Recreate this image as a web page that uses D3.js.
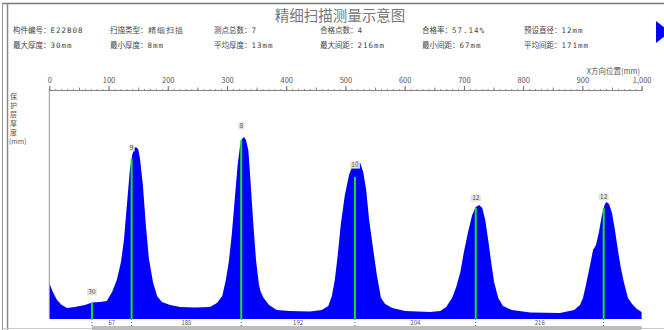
<!DOCTYPE html>
<html>
<head>
<meta charset="utf-8">
<script src="https://cdn.jsdelivr.net/npm/d3@7"></script>
<style>
  body { margin: 0; background: #fff; }
  svg { display: block; }
  text { font-family: "Noto Sans CJK SC", "DejaVu Sans", sans-serif; }
</style>
</head>
<body>
<div id="chart"></div>
<script>
// scan curve: position along X (mm) and signal amplitude (0-100)
var scanPos = [0, 6, 13, 21, 30, 43, 60, 72, 86, 97, 106, 114, 121, 126, 131, 136, 140, 143, 146, 150,
  153, 158, 163, 168, 175, 182, 190, 204, 221, 246, 271, 283, 292, 298, 303, 308, 313, 318, 322, 325,
  329, 332, 336, 339, 344, 349, 354, 357, 362, 371, 384, 406, 440, 460, 471, 477, 482, 487, 492, 499,
  506, 513, 520, 525, 530, 535, 540, 547, 553, 560, 567, 579, 601, 643, 660, 670, 680, 687, 694, 700,
  707, 714, 720, 726, 731, 736, 741, 746, 751, 758, 766, 781, 812, 862, 886, 896, 901, 906, 913, 918,
  923, 928, 933, 938, 941, 945, 950, 955, 960, 965, 970, 977, 984, 992, 1000];
var scanAmp = [15.7, 11.8, 8.3, 6.1, 4.8, 5.2, 6.1, 7.2, 7.4, 7.9, 11.8, 17, 24.9, 34.5, 49.8, 65.1, 71.6, 74.2, 75.1, 74.2,
  70.3, 58.5, 41, 26.6, 16.2, 10, 7.4, 6.1, 5.2, 5, 5.2, 7, 10, 17, 24.9, 36.7, 52, 67.2, 75.5, 78.6,
  79.5, 78.2, 73.8, 62.9, 43.2, 25.8, 14.8, 11.8, 9.2, 6.1, 3.9, 3.5, 3.3, 3.9, 5.7, 10, 17, 28, 41, 54.1,
  62.9, 67.7, 69, 68.1, 64.2, 56.3, 43.2, 30.1, 19.2, 9.2, 6.6, 4.8, 3.5, 3.1, 3.5, 5.2, 9.2, 14, 20.5, 29.3,
  38, 45.4, 48.9, 49.8, 48.5, 43.2, 34.5, 24.9, 16.2, 9.2, 5.7, 3.9, 2.8, 2.6, 3.9, 6.1, 9.2, 14.8, 23.6, 30.1,
  32.3, 38, 45.4, 50.2, 51.1, 50.2, 46.3, 38.9, 30.1, 22.3, 16.2, 9.2, 6.6, 4.4, 3.1];

// measuring points
var pointPos = [72, 139, 324, 516, 720, 936];
var pointAmp = [7, 70, 78, 62, 48.5, 48.5];
var pointLabelAmp = [11.8, 74.7, 84.3, 67.2, 52.8, 53.3];
var pointThick = [30, 9, 8, 10, 12, 12];

// header info
var infoRow1 = [["构件编号：", "E22B08"], ["扫描类型：", "精细扫描"], ["测点总数：", "7"],
  ["合格点数：", "4"], ["合格率：", "57.14%"], ["预设直径：", "12mm"]];
var infoRow2 = [["最大厚度：", "30mm"], ["最小厚度：", "8mm"], ["平均厚度：", "13mm"],
  ["最大间距：", "216mm"], ["最小间距：", "67mm"], ["平均间距：", "171mm"]];
var infoCols = [13, 110, 214, 320, 422, 524];
var xTicks = [0, 100, 200, 300, 400, 500, 600, 700, 800, 900, 1000];
var yLabelChars = ["保", "护", "层", "厚", "度"];

var W = 664, H = 330;
var svg = d3.select("#chart").append("svg").attr("width", W).attr("height", H);

// window frame
svg.append("line").attr("x1", 2).attr("x2", W).attr("y1", 3.5).attr("y2", 3.5)
  .attr("stroke", "#777").attr("stroke-width", 1.5);
svg.append("line").attr("x1", 2.5).attr("x2", 2.5).attr("y1", 3).attr("y2", H)
  .attr("stroke", "#999").attr("stroke-width", 1);
svg.append("line").attr("x1", 7.5).attr("x2", 7.5).attr("y1", 3).attr("y2", H)
  .attr("stroke", "#888").attr("stroke-width", 1.5);
svg.append("line").attr("x1", 3).attr("x2", W).attr("y1", 328.5).attr("y2", 328.5)
  .attr("stroke", "#ccc").attr("stroke-width", 1);

// blue arrow on the right edge
svg.append("path").attr("d", "M656,21 L670,32 L656,43 Z").attr("fill", "#0000ff");

// title
svg.append("text").attr("x", 340).attr("y", 21).attr("text-anchor", "middle")
  .attr("font-size", 14.5).attr("fill", "#777").text("精细扫描测量示意图");

function infoRow(rows, y) {
  rows.forEach(function (d, i) {
    var t = svg.append("text").attr("x", infoCols[i]).attr("y", y)
      .attr("font-size", 7.5).attr("fill", "#444");
    t.append("tspan").text(d[0]);
    t.append("tspan").attr("font-family", "DejaVu Sans Mono").attr("font-size", 7.5)
      .attr("letter-spacing", 1).text(d[1]);
  });
}
infoRow(infoRow1, 33);
infoRow(infoRow2, 48);

// scales
var x = d3.scaleLinear().domain([0, 1000]).range([49.3, 641.6]);
var y = d3.scaleLinear().domain([0, 100]).range([319, 90]);

// top axis with minor ticks
var axisY = 90;
svg.append("g").attr("transform", "translate(0," + axisY + ")")
  .call(d3.axisTop(x).tickValues(d3.range(0, 1001, 10)).tickSize(1).tickFormat(""))
  .call(function (g) { g.select(".domain").attr("stroke", "#888"); g.selectAll("line").attr("stroke", "#888"); });
svg.append("g").attr("transform", "translate(0," + axisY + ")")
  .call(d3.axisTop(x).tickValues(d3.range(50, 1000, 100)).tickSize(2.5).tickFormat(""))
  .call(function (g) { g.select(".domain").remove(); g.selectAll("line").attr("stroke", "#888"); });
svg.append("g").attr("transform", "translate(0," + axisY + ")")
  .call(d3.axisTop(x).tickValues(xTicks).tickSize(4).tickPadding(3))
  .call(function (g) {
    g.select(".domain").remove();
    g.selectAll("line").attr("stroke", "#666");
    g.selectAll("text").attr("font-family", "DejaVu Sans Mono").attr("font-size", 7.5).attr("fill", "#555");
  });

// axis titles
svg.append("text").attr("x", 640).attr("y", 74).attr("text-anchor", "end")
  .attr("font-size", 7.5).attr("fill", "#555").text("X方向位置(mm)");
svg.selectAll(".ych").data(yLabelChars).enter().append("text")
  .attr("x", 13.5).attr("y", function (d, i) { return 99 + i * 9; })
  .attr("text-anchor", "middle").attr("font-size", 7).attr("fill", "#555").text(function (d) { return d; });
svg.append("text").attr("x", 9).attr("y", 144).attr("font-size", 7)
  .attr("font-family", "DejaVu Sans Mono").attr("fill", "#555").text("(mm)");

// scan area
var scan = scanPos.map(function (p, i) { return { pos: p, amp: scanAmp[i] }; });
var area = d3.area()
  .x(function (d) { return x(d.pos); })
  .y0(y(0))
  .y1(function (d) { return y(d.amp); });
svg.append("path").datum(scan).attr("d", area).attr("fill", "#0000ff");

// y axis line
svg.append("line").attr("x1", x(0)).attr("x2", x(0)).attr("y1", axisY).attr("y2", y(0))
  .attr("stroke", "#999").attr("stroke-width", 1);

// measuring point lines
var pts = pointPos.map(function (p, i) {
  return { pos: p, amp: pointAmp[i], lab: pointLabelAmp[i], thick: pointThick[i] };
});
svg.selectAll(".pt").data(pts).enter().append("line")
  .attr("x1", function (d) { return x(d.pos); })
  .attr("x2", function (d) { return x(d.pos); })
  .attr("y1", y(0))
  .attr("y2", function (d) { return y(d.amp); })
  .attr("stroke", "#22dd22").attr("stroke-width", 2);
var labs = svg.selectAll(".ptl").data(pts).enter().append("g")
  .attr("transform", function (d) { return "translate(" + x(d.pos) + "," + y(d.lab) + ")"; });
labs.append("rect")
  .attr("x", function (d) { return -String(d.thick).length * 2 - 1; })
  .attr("y", -3.5)
  .attr("width", function (d) { return String(d.thick).length * 4 + 2; })
  .attr("height", 7).attr("fill", "#e4e4e4");
labs.append("text")
  .attr("text-anchor", "middle").attr("dy", "0.35em").attr("font-family", "DejaVu Sans Mono")
  .attr("font-size", 6.5).attr("fill", "#555").text(function (d) { return d.thick; });

// spacing strip under the chart
svg.append("rect").attr("x", x(pointPos[0])).attr("y", 326).attr("width", x(1000) - x(pointPos[0]))
  .attr("height", 4).attr("fill", "#bdbdbd");
svg.selectAll(".mk").data(pts).enter().append("line")
  .attr("x1", function (d) { return x(d.pos); })
  .attr("x2", function (d) { return x(d.pos); })
  .attr("y1", y(0)).attr("y2", 328)
  .attr("stroke", "#555").attr("stroke-width", 1).attr("stroke-dasharray", "1,2");
var gaps = d3.pairs(pointPos);
svg.selectAll(".gap").data(gaps).enter().append("text")
  .attr("x", function (d) { return x((d[0] + d[1]) / 2); })
  .attr("y", 325)
  .attr("text-anchor", "middle").attr("font-family", "DejaVu Sans Mono")
  .attr("font-size", 6).attr("fill", "#555").text(function (d) { return d[1] - d[0]; });
</script>
</body>
</html>
